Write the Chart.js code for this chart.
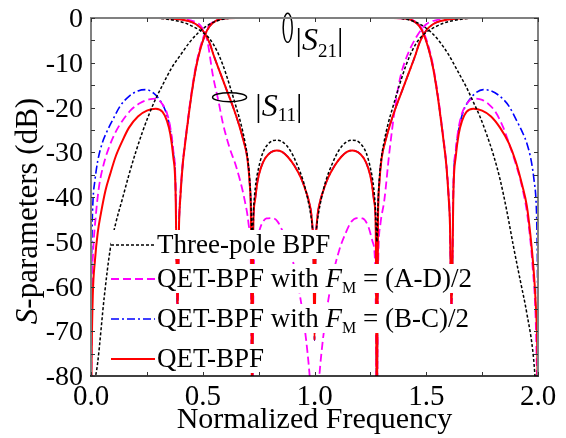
<!DOCTYPE html>
<html>
<head>
<meta charset="utf-8">
<script src="https://cdn.jsdelivr.net/npm/chart.js@4.4.1/dist/chart.umd.min.js"></script>
<style>
  html, body { margin: 0; padding: 0; background: #fff; }
  canvas { display: block; }
</style>
</head>
<body>
<canvas id="chart" width="566" height="438"></canvas>
<script>
// ---- data (normalized frequency, dB) ----

// three-pole BPF (black dotted)
const threePoleS21F = [0, 0.01, 0.03, 0.06, 0.085, 0.11, 0.14, 0.17, 0.20, 0.23, 0.26, 0.29, 0.32, 0.36, 0.40, 0.44, 0.48, 0.52, 0.56, 0.60, 0.65,
  1.35, 1.40, 1.44, 1.48, 1.52, 1.56, 1.60, 1.64, 1.68, 1.71, 1.74, 1.77, 1.80, 1.83, 1.86, 1.89, 1.92, 1.95, 1.98, 2.0];
const threePoleS21 = [-92, -84, -77, -62, -52, -46, -40.5, -35, -30, -25.5, -21.5, -18, -15, -11.2, -8.3, -5.5, -3.3, -1.7, -0.7, -0.2, 0,
  0, -0.2, -0.7, -1.6, -3.1, -5.3, -8.2, -11.8, -15.5, -18.7, -22, -26, -30.5, -36, -43, -51, -58.5, -66, -76, -90];
const threePoleS11F = [0, 0.28, 0.33, 0.38, 0.42, 0.46, 0.50, 0.53, 0.56, 0.59, 0.62, 0.65, 0.67, 0.69, 0.70, 0.71, 0.716, 0.721, 0.727, 0.735,
  0.75, 0.77, 0.80, 0.83, 0.86, 0.89, 0.92, 0.95, 0.97, 0.985, 1.0, 1.015, 1.03, 1.05, 1.08, 1.11, 1.14, 1.17, 1.20, 1.23,
  1.25, 1.265, 1.273, 1.279, 1.284, 1.29, 1.30, 1.31, 1.33, 1.35, 1.38, 1.41, 1.44, 1.47, 1.50, 1.54, 1.58, 1.62, 1.67, 1.72, 2.0];
const threePoleS11 = [0, 0, -0.2, -0.6, -1.1, -2, -3.2, -4.6, -7, -10.5, -15, -20, -23.5, -28, -31, -36, -42, -50, -43, -38,
  -33.5, -30, -27.8, -27.3, -27.8, -29.5, -32.5, -36.5, -40.5, -44.5, -50, -44.5, -40.5, -36.5, -32.5, -29.5, -27.8, -27.3, -27.8, -30,
  -33.5, -38, -43, -50, -42, -36, -31, -28, -23.5, -20, -15, -10.5, -7, -4.6, -3.2, -2, -1.1, -0.6, -0.2, 0, 0];

// QET-BPF (red solid)
const qetS21F = [0, 0.003, 0.008, 0.018, 0.03, 0.045, 0.065, 0.085, 0.11, 0.14, 0.17, 0.21, 0.25, 0.29, 0.32, 0.34, 0.355, 0.368, 0.378, 0.387,
  0.394, 0.40, 0.41, 0.42, 0.43, 0.45, 0.47, 0.49, 0.51, 0.53, 0.56, 0.60, 0.65, 1.35, 1.40, 1.44, 1.47, 1.49, 1.51, 1.53,
  1.55, 1.57, 1.58, 1.59, 1.60, 1.606, 1.613, 1.622, 1.632, 1.645, 1.66, 1.68, 1.71, 1.75, 1.79, 1.83, 1.87, 1.90, 1.93, 1.95,
  1.965, 1.98, 1.99, 1.997, 2.0];
const qetS21 = [-92, -75, -62, -54, -48, -43.5, -38.5, -35, -31, -27.5, -24.5, -22, -20.7, -20.3, -21, -23, -26, -31, -38, -66,
  -46, -40, -33, -28.5, -24.5, -17, -11, -6.8, -3.8, -1.9, -0.6, -0.1, 0, 0, -0.1, -0.6, -1.9, -3.8, -6.8, -11,
  -17, -24.5, -28.5, -33, -40, -46, -66, -38, -31, -26, -23, -21, -20.3, -20.7, -22, -24.5, -28, -32, -37.5, -42,
  -48, -56, -64, -75, -92];
const qetS11F = [0, 0.30, 0.38, 0.43, 0.47, 0.50, 0.53, 0.55, 0.58, 0.61, 0.64, 0.66, 0.68, 0.70, 0.71, 0.716, 0.721, 0.726, 0.733, 0.745,
  0.76, 0.78, 0.805, 0.83, 0.855, 0.88, 0.91, 0.94, 0.96, 0.975, 0.988, 0.995, 1.0, 1.005, 1.012, 1.025, 1.04, 1.06, 1.09, 1.12,
  1.145, 1.17, 1.195, 1.22, 1.24, 1.255, 1.267, 1.274, 1.279, 1.284, 1.29, 1.30, 1.32, 1.34, 1.36, 1.39, 1.42, 1.45, 1.47, 1.50,
  1.53, 1.57, 1.62, 1.70, 2.0];
const qetS11 = [0, 0, -0.2, -0.6, -1.4, -2.8, -5.5, -8.5, -12.5, -16.5, -20.5, -23.5, -27, -31.5, -37, -46, -92, -47, -41, -36.5,
  -33.5, -31.3, -30, -29.6, -29.9, -31, -33, -35.8, -38.5, -41, -45, -52, -72, -52, -45, -41, -38.5, -35.8, -33, -31,
  -29.9, -29.6, -30, -31.3, -33.5, -36.5, -41, -47, -92, -46, -37, -31.5, -27, -23.5, -20.5, -16.5, -12.5, -8.5, -5.5, -2.8,
  -1.4, -0.6, -0.2, 0, 0];

// QET-BPF with FM = (A-D)/2 (magenta dashed)
const adS21F = [0, 0.004, 0.01, 0.02, 0.035, 0.055, 0.08, 0.11, 0.14, 0.18, 0.22, 0.26, 0.29, 0.32, 0.34, 0.355, 0.368, 0.378, 0.387, 0.394,
  0.40, 0.41, 0.42, 0.43, 0.45, 0.47, 0.49, 0.51, 0.53, 0.56, 0.60, 0.65, 1.35, 1.40, 1.44, 1.47, 1.49, 1.51, 1.53, 1.55,
  1.57, 1.58, 1.59, 1.60, 1.606, 1.613, 1.622, 1.632, 1.645, 1.66, 1.68, 1.71, 1.75, 1.78, 1.81, 1.845, 1.87, 1.90, 1.93, 1.955,
  1.975, 1.99, 2.0];
const adS21 = [-92, -62, -52, -45, -38, -33, -29, -25.5, -23, -20.5, -19, -18.2, -18, -19.3, -21.3, -24.5, -29.5, -36.5, -66, -45,
  -39, -32.5, -28, -24, -16.5, -10.5, -6.3, -3.4, -1.6, -0.5, -0.1, 0, 0, -0.1, -0.5, -1.6, -3.4, -6.3, -10.5, -16.5,
  -24, -28, -32.5, -39, -45, -66, -36.5, -29.5, -24.5, -21.3, -19.3, -18, -18.3, -19.3, -21, -24.5, -28, -32.5, -38, -45,
  -55, -68, -92];
const adS11F = [0, 0.33, 0.40, 0.45, 0.48, 0.50, 0.52, 0.546, 0.57, 0.59, 0.62, 0.65, 0.6875, 0.705, 0.715, 0.721, 0.728, 0.74, 0.76, 0.785,
  0.81, 0.835, 0.86, 0.89, 0.92, 0.95, 0.975, 0.99, 1.0, 1.01, 1.025, 1.05, 1.08, 1.11, 1.14, 1.165, 1.19, 1.215, 1.24, 1.26,
  1.272, 1.279, 1.285, 1.295, 1.3125, 1.335, 1.365, 1.385, 1.41, 1.454, 1.50, 1.55, 1.60, 1.67, 2.0];
const adS11 = [0, 0, -0.2, -0.6, -1.2, -2.4, -5, -13, -18.5, -23.5, -29, -33.3, -40.7, -46, -55, -92, -56, -50, -46.5, -44.8,
  -44.7, -45.5, -48, -52, -58, -67, -78, -88, -95, -88, -78, -67, -58, -52, -48, -45.5, -44.7, -44.8, -46.5, -50,
  -56, -92, -55, -46, -40.7, -30, -18.4, -13, -9, -4.4, -1.4, -0.4, -0.1, 0, 0];

// QET-BPF with FM = (B-C)/2 (blue dash-dot); its |S11| lies under the red one
const bcS21F = [0, 0.002, 0.005, 0.009, 0.017, 0.03, 0.05, 0.07, 0.10, 0.13, 0.17, 0.21, 0.245, 0.28, 0.31, 0.335, 0.355, 0.368, 0.378, 0.387,
  0.394, 0.40, 0.41, 0.42, 0.43, 0.45, 0.47, 0.49, 0.51, 0.53, 0.56, 0.60, 0.65, 1.35, 1.40, 1.44, 1.47, 1.49, 1.51, 1.53,
  1.55, 1.57, 1.58, 1.59, 1.60, 1.606, 1.613, 1.622, 1.632, 1.645, 1.665, 1.69, 1.72, 1.755, 1.79, 1.83, 1.87, 1.90, 1.93, 1.95,
  1.97, 1.983, 1.991, 1.995, 1.998, 2.0];
const bcS21 = [-92, -60, -47, -40.7, -36.5, -32, -28, -25.5, -22.5, -19.7, -17.5, -16.3, -16, -16.8, -18.5, -21, -25, -30, -37, -66,
  -46, -40, -33, -28.5, -24.5, -17, -11, -6.8, -3.8, -1.9, -0.6, -0.1, 0, 0, -0.1, -0.6, -1.9, -3.8, -6.8, -11,
  -17, -24.5, -28.5, -33, -40, -46, -66, -37, -30, -25, -21, -18.5, -16.8, -16, -16.3, -17.5, -19.7, -22.5, -25.5, -28,
  -32, -36.5, -40.7, -47, -60, -92];
const bcS11F = qetS11F;
const bcS11 = qetS11;

const xLabelValues = [0, 0.5, 1.0, 1.5, 2.0];
const yLabelValues = [0, -10, -20, -30, -40, -50, -60, -70, -80];

const legendRows = [
  { color: '#000000', dash: [3, 2], width: 1.5, segs: [{ t: 'Three-pole BPF' }] },
  { color: '#ff00ff', dash: [8, 4], width: 1.8, segs: [{ t: 'QET-BPF with ' }, { t: 'F', it: true }, { t: 'M', sub: true }, { t: ' = (A-D)/2' }] },
  { color: '#0000ff', dash: [8, 3, 2, 3], width: 1.6, segs: [{ t: 'QET-BPF with ' }, { t: 'F', it: true }, { t: 'M', sub: true }, { t: ' = (B-C)/2' }] },
  { color: '#ff0000', dash: [], width: 2, segs: [{ t: 'QET-BPF' }] }
];

const SERIF = '"Liberation Serif", "Times New Roman", serif';

function pts(fs, db) {
  return fs.map((f, i) => ({ x: f, y: db[i] }));
}

function line(data, color, dash, width, order) {
  return {
    data: data,
    borderColor: color,
    borderDash: dash,
    borderWidth: width,
    pointRadius: 0,
    fill: false,
    cubicInterpolationMode: 'monotone',
    order: order
  };
}

function richWidth(ctx, segs, size) {
  let w = 0;
  for (const s of segs) {
    const fs = s.sub ? Math.round(size * 0.6) : size;
    ctx.font = (s.it ? 'italic ' : '') + fs + 'px ' + SERIF;
    w += ctx.measureText(s.t).width;
  }
  return w;
}

function drawRich(ctx, segs, x, y, size, subDrop) {
  let cx = x;
  for (const s of segs) {
    const fs = s.sub ? Math.round(size * 0.6) : size;
    ctx.font = (s.it ? 'italic ' : '') + fs + 'px ' + SERIF;
    ctx.fillText(s.t, cx, y + (s.sub ? subDrop : 0));
    cx += ctx.measureText(s.t).width;
  }
  return cx;
}

const decor = {
  id: 'decor',
  afterDraw(chart) {
    const { ctx, chartArea: a, scales: { x, y } } = chart;
    ctx.save();
    ctx.fillStyle = '#000';
    ctx.textAlign = 'left';
    ctx.textBaseline = 'alphabetic';

    // legend, white behind each entry
    const baselines = [253, 287, 327, 367];
    legendRows.forEach((r, i) => {
      const b = baselines[i];
      const w = richWidth(ctx, r.segs, 27);
      ctx.fillStyle = '#fff';
      ctx.fillRect(111, b - 23, 157 + w + 2 - 111, 29);
      ctx.strokeStyle = r.color;
      ctx.lineWidth = r.width;
      ctx.setLineDash(r.dash);
      ctx.beginPath();
      ctx.moveTo(111, b - 8);
      ctx.lineTo(155, b - 8);
      ctx.stroke();
      ctx.setLineDash([]);
      ctx.fillStyle = '#000';
      drawRich(ctx, r.segs, 157, b, 27, 6);
    });

    // ellipses and |S21|, |S11| labels
    ctx.strokeStyle = '#000';
    ctx.lineWidth = 1.5;
    ctx.beginPath();
    ctx.ellipse(x.getPixelForValue(0.88), y.getPixelForValue(-2.2), 4.5, 14.5, 0, 0, Math.PI * 2);
    ctx.stroke();
    ctx.beginPath();
    ctx.ellipse(x.getPixelForValue(0.62), y.getPixelForValue(-17.7), 17, 4.5, 0, 0, Math.PI * 2);
    ctx.stroke();
    const sLabel = (n) => [{ t: '|' }, { t: 'S', it: true }, { t: n, sub: true }, { t: '|' }];
    drawRich(ctx, sLabel('21'), x.getPixelForValue(0.915), y.getPixelForValue(-7.2), 32, 7);
    drawRich(ctx, sLabel('11'), x.getPixelForValue(0.735), y.getPixelForValue(-21.8), 32, 5);

    // frame
    ctx.lineWidth = 2;
    ctx.strokeStyle = '#808080';
    ctx.beginPath();
    ctx.moveTo(a.left, a.bottom);
    ctx.lineTo(a.left, a.top);
    ctx.lineTo(a.right, a.top);
    ctx.lineTo(a.right, a.bottom);
    ctx.stroke();
    ctx.strokeStyle = '#000';
    ctx.lineWidth = 1.5;
    ctx.beginPath();
    ctx.moveTo(a.left - 1, a.bottom);
    ctx.lineTo(a.right + 1, a.bottom);
    ctx.stroke();

    // inward ticks
    ctx.lineWidth = 1;
    ctx.strokeStyle = '#333';
    ctx.beginPath();
    y.ticks.forEach(t => {
      const py = Math.round(y.getPixelForValue(t.value)) + 0.5;
      ctx.moveTo(a.left, py); ctx.lineTo(a.left + 4, py);
      ctx.moveTo(a.right, py); ctx.lineTo(a.right - 4, py);
    });
    x.ticks.forEach(t => {
      const px = Math.round(x.getPixelForValue(t.value)) + 0.5;
      ctx.moveTo(px, a.bottom); ctx.lineTo(px, a.bottom - 4);
      ctx.moveTo(px, a.top); ctx.lineTo(px, a.top + 4);
    });
    ctx.stroke();

    // tick labels
    ctx.fillStyle = '#000';
    ctx.font = '28px ' + SERIF;
    ctx.textAlign = 'right';
    yLabelValues.forEach(v => {
      ctx.fillText(String(v), a.left - 8, y.getPixelForValue(v) + 9);
    });
    ctx.font = '29px ' + SERIF;
    ctx.textAlign = 'center';
    xLabelValues.forEach(v => {
      ctx.fillText(v.toFixed(1), x.getPixelForValue(v), a.bottom + 29);
    });

    // axis titles
    ctx.font = '30px ' + SERIF;
    ctx.fillText('Normalized Frequency', (a.left + a.right) / 2, 428);

    ctx.save();
    ctx.translate(37, 211);
    ctx.rotate(-Math.PI / 2);
    const ySegs = [{ t: 'S', it: true }, { t: '-parameters (dB)' }];
    const yw = richWidth(ctx, ySegs, 31);
    ctx.textAlign = 'left';
    drawRich(ctx, ySegs, -yw / 2, 0, 31, 0);
    ctx.restore();

    ctx.restore();
  }
};

new Chart(document.getElementById('chart'), {
  type: 'line',
  data: {
    datasets: [
      line(pts(bcS21F, bcS21), '#0000ff', [8, 3, 2, 3], 1.6, 4),
      line(pts(bcS11F, bcS11), '#0000ff', [8, 3, 2, 3], 1.6, 4),
      line(pts(adS21F, adS21), '#ff00ff', [8, 4], 1.8, 3),
      line(pts(adS11F, adS11), '#ff00ff', [8, 4], 1.8, 3),
      line(pts(qetS21F, qetS21), '#ff0000', [], 2, 2),
      line(pts(qetS11F, qetS11), '#ff0000', [], 2, 2),
      line(pts(threePoleS21F, threePoleS21), '#000000', [3, 2], 1.5, 1),
      line(pts(threePoleS11F, threePoleS11), '#000000', [3, 2], 1.5, 1)
    ]
  },
  options: {
    responsive: false,
    animation: false,
    devicePixelRatio: 1,
    layout: { padding: { left: 91, right: 28, top: 18, bottom: 62 } },
    plugins: { legend: { display: false }, tooltip: { enabled: false } },
    scales: {
      x: {
        type: 'linear', min: 0, max: 2,
        ticks: { display: false, stepSize: 0.25 },
        grid: { display: false }, border: { display: false },
        afterFit: s => { s.height = 0; }
      },
      y: {
        type: 'linear', min: -80, max: 0,
        ticks: { display: false, stepSize: 5 },
        grid: { display: false }, border: { display: false },
        afterFit: s => { s.width = 0; }
      }
    }
  },
  plugins: [decor]
});
</script>
</body>
</html>
